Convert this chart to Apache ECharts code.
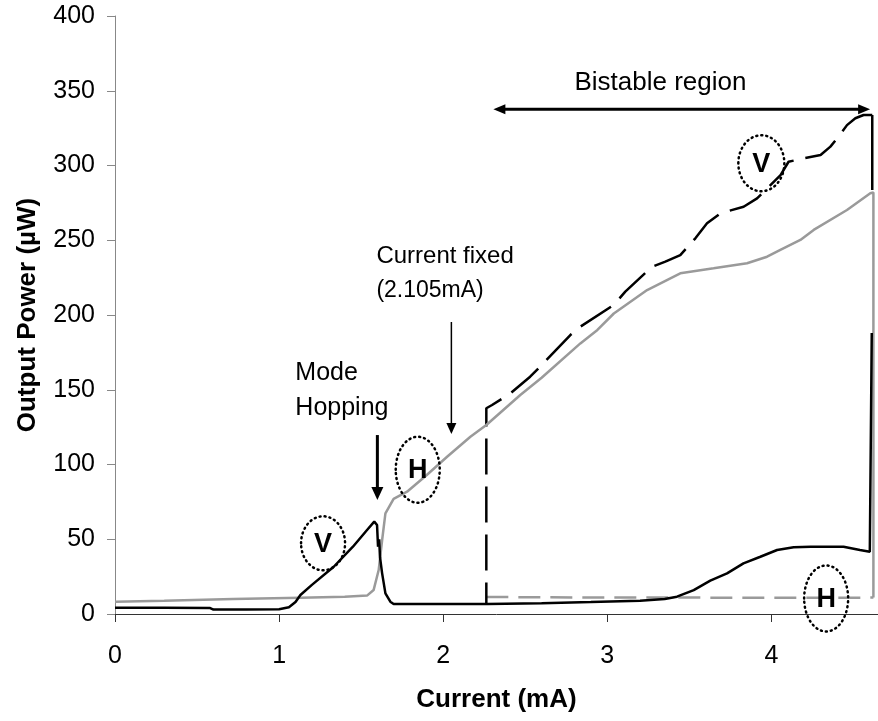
<!DOCTYPE html>
<html>
<head>
<meta charset="utf-8">
<script src="https://cdn.jsdelivr.net/npm/echarts@6/dist/echarts.min.js"></script>
<style>
html,body{margin:0;padding:0;background:#fff;}
#chart{width:878px;height:721px;}
</style>
</head>
<body>
<div id="chart"></div>
<script>
// ---- data (Current mA, Output Power µW) ----
const xTicks = [0, 1, 2, 3, 4];
const yTicks = [0, 50, 100, 150, 200, 250, 300, 350, 400];

// V polarisation, increasing current (black solid)
const vUp = [[0,4.2],[0.3,4.2],[0.58,4.0],[0.6,3.0],[0.8,3.0],[1.0,3.2],[1.06,4.5],[1.1,8],[1.13,12.7],[1.2,19.5],[1.333,31.6],[1.45,45],[1.536,56.2],[1.58,61.8],[1.597,59.5],[1.603,45],[1.61,50],[1.615,38],[1.628,27.2],[1.648,13.8],[1.678,8.2],[1.698,6.7],[2.0,6.7],[2.27,6.7],[2.6,7.2],[2.9,8],[3.2,8.9],[3.35,10],[3.425,11.6],[3.527,16],[3.628,22.3],[3.73,27.2],[3.83,33.9],[3.933,38.3],[4.035,42.8],[4.136,44.6],[4.24,45],[4.44,45],[4.54,42.8],[4.60,41.7],[4.612,41.7],[4.612,188]];
// V jump segment at the switching point
const vJump = [[4.615,283.6],[4.615,333.8]];
// V polarisation, decreasing current (black dashed)
const vDown = [[4.615,333.8],[4.603,333],[4.562,333.8],[4.512,331.6],[4.461,327],[4.41,319.3],[4.36,312.6],[4.30,307],[4.197,304.8],[4.105,302.5],[4.056,293.6],[3.913,278],[3.831,272.4],[3.689,268],[3.608,261.3],[3.537,251.3],[3.445,240.1],[3.354,235.7],[3.273,232.3],[3.11,215.6],[3.039,206.7],[2.836,192.2],[2.775,186.6],[2.58,164.3],[2.53,158.7],[2.41,147.6],[2.298,139.8],[2.263,137.6],[2.263,7]];
// H polarisation, increasing current (grey solid)
const hUp = [[0,8.2],[0.3,8.8],[0.72,10],[1.13,10.9],[1.4,11.5],[1.536,12.3],[1.576,16],[1.607,29.4],[1.628,49.5],[1.648,67.3],[1.698,77],[1.78,81.8],[1.9,93],[2.024,105.2],[2.166,118.6],[2.263,126.4],[2.47,146.5],[2.6,158],[2.836,181],[2.94,190],[3.04,201],[3.243,216.7],[3.445,227.9],[3.648,231.2],[3.852,234.6],[3.974,239],[4.055,243.5],[4.177,250.2],[4.258,256.9],[4.461,270.2],[4.603,281.4],[4.622,282],[4.622,11]];
// H polarisation, decreasing current (grey dashed)
const hDown = [[2.263,11.4],[2.6,11.2],[3.0,11],[3.5,11],[4.0,10.8],[4.3,10.8],[4.622,11]];

// annotations (data coordinates)
const circles = [
  {label:'V', x:1.268, y:47.3, rx:22, ry:27},
  {label:'H', x:1.845, y:96.5, rx:22, ry:33},
  {label:'V', x:3.939, y:301.5, rx:23, ry:28},
  {label:'H', x:4.334, y:10.4, rx:22, ry:33}
];
const texts = [
  {t:'Mode', x:1.099, y:161, size:25, align:'left'},
  {t:'Hopping', x:1.099, y:137.5, size:25, align:'left'},
  {t:'Current fixed', x:1.593, y:239.5, size:24, align:'left'},
  {t:'(2.105mA)', x:1.593, y:216, size:23, align:'left'},
  {t:'Bistable region', x:3.324, y:355.5, size:26, align:'center'}
];
const bistableArrow = {x1:2.306, x2:4.602, y:337.6};
const modeArrow = {x:1.599, y1:119.7, y2:76.3};
const fixedArrow = {x:2.05, y1:195.3, y2:120.4};

const FONT = "'Liberation Sans', Arial, sans-serif";
const chart = echarts.init(document.getElementById('chart'), null, {renderer:'canvas'});

chart.setOption({
  animation:false,
  backgroundColor:'#fff',
  grid:{left:115, right:0, top:16, bottom:107, containLabel:false, outerBoundsMode:'none'},
  xAxis:{
    type:'value', min:0, max:4.65, interval:1,
    name:'Current (mA)', nameLocation:'middle', nameGap:73,
    nameTextStyle:{fontFamily:FONT, fontSize:26, fontWeight:'bold', color:'#000'},
    axisLine:{lineStyle:{color:'#333', width:1}},
    axisTick:{show:true, length:8, lineStyle:{color:'#333'}},
    axisLabel:{fontFamily:FONT, fontSize:25, color:'#000', margin:30,
      formatter:function(v){return xTicks.indexOf(v) >= 0 ? String(v) : '';}},
    splitLine:{show:false}
  },
  yAxis:{
    type:'value', min:0, max:400, interval:50,
    name:'Output Power (\u00b5W)', nameLocation:'middle', nameGap:74, nameRotate:90,
    nameTextStyle:{fontFamily:FONT, fontSize:26, fontWeight:'bold', color:'#000'},
    axisLine:{show:true, lineStyle:{color:'#888', width:1}},
    axisTick:{show:true, length:8, lineStyle:{color:'#888'}},
    axisLabel:{fontFamily:FONT, fontSize:25, color:'#000', margin:20,
      formatter:function(v){return yTicks.indexOf(v) >= 0 ? String(v) : '';}},
    splitLine:{show:false}
  },
  series:[
    {name:'H down', type:'line', data:hDown, showSymbol:false, lineStyle:{color:'#9a9a9a', width:2.5, type:[22,10]}, z:2},
    {name:'V down', type:'line', data:vDown, showSymbol:false, lineStyle:{color:'#000', width:2.5, type:[36,12]}, z:3},
    {name:'V jump', type:'line', data:vJump, showSymbol:false, lineStyle:{color:'#000', width:2.5}, z:3},
    {name:'H up', type:'line', data:hUp, showSymbol:false, lineStyle:{color:'#9a9a9a', width:2.5}, z:4},
    {name:'V up', type:'line', data:vUp, showSymbol:false, lineStyle:{color:'#000', width:2.5}, z:5}
  ]
});

function px(x, y){ return chart.convertToPixel({gridIndex:0}, [x, y]); }

const g = [];
circles.forEach(function(c){
  const p = px(c.x, c.y);
  g.push({type:'ellipse', shape:{cx:p[0], cy:p[1], rx:c.rx, ry:c.ry},
    style:{fill:null, stroke:'#000', lineWidth:2.5, lineDash:[1,4], lineCap:'round'}, z:20});
  g.push({type:'text', x:p[0], y:p[1]+1, style:{text:c.label, fill:'#000', font:'bold 27px ' + FONT, textAlign:'center', textVerticalAlign:'middle'}, z:21});
});
texts.forEach(function(t){
  const p = px(t.x, t.y);
  g.push({type:'text', x:p[0], y:p[1], style:{text:t.t, fill:'#000', font:t.size + 'px ' + FONT, textAlign:t.align, textVerticalAlign:'middle'}, z:21});
});
// bistable double arrow
(function(){
  const a = px(bistableArrow.x1, bistableArrow.y), b = px(bistableArrow.x2, bistableArrow.y);
  g.push({type:'line', shape:{x1:a[0]+8, y1:a[1], x2:b[0]-8, y2:b[1]}, style:{stroke:'#000', lineWidth:3}, z:20});
  g.push({type:'polygon', shape:{points:[[a[0],a[1]],[a[0]+12,a[1]-5],[a[0]+12,a[1]+5]]}, style:{fill:'#000'}, z:20});
  g.push({type:'polygon', shape:{points:[[b[0],b[1]],[b[0]-12,b[1]-5],[b[0]-12,b[1]+5]]}, style:{fill:'#000'}, z:20});
})();
// mode hopping arrow
(function(){
  const a = px(modeArrow.x, modeArrow.y1), b = px(modeArrow.x, modeArrow.y2);
  g.push({type:'line', shape:{x1:a[0], y1:a[1], x2:b[0], y2:b[1]-10}, style:{stroke:'#000', lineWidth:3}, z:20});
  g.push({type:'polygon', shape:{points:[[b[0],b[1]],[b[0]-6,b[1]-13],[b[0]+6,b[1]-13]]}, style:{fill:'#000'}, z:20});
})();
// current fixed arrow
(function(){
  const a = px(fixedArrow.x, fixedArrow.y1), b = px(fixedArrow.x, fixedArrow.y2);
  g.push({type:'line', shape:{x1:a[0], y1:a[1], x2:b[0], y2:b[1]-8}, style:{stroke:'#000', lineWidth:1.5}, z:20});
  g.push({type:'polygon', shape:{points:[[b[0],b[1]],[b[0]-5,b[1]-11],[b[0]+5,b[1]-11]]}, style:{fill:'#000'}, z:20});
})();
chart.setOption({graphic:{elements:g}});
</script>
</body>
</html>
